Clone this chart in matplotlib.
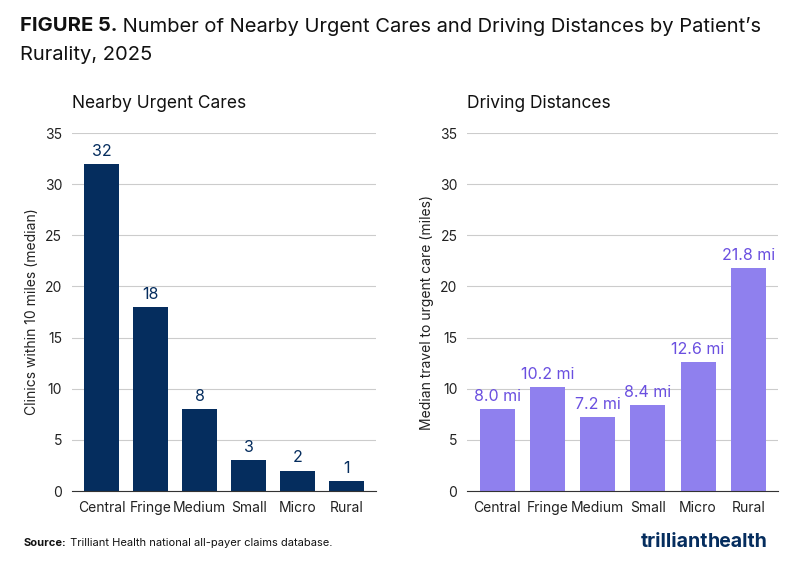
import matplotlib.pyplot as plt

categories = ["Central", "Fringe", "Medium", "Small", "Micro", "Rural"]
clinics = [32, 18, 8, 3, 2, 1]
distances = [8.0, 10.2, 7.2, 8.4, 12.6, 21.8]

navy = "#052d5e"
purple = "#8f80ee"
purple_text = "#6a4fe0"

plt.rcParams['font.family'] = ['Inter', 'DejaVu Sans']

fig = plt.figure(figsize=(8, 5.71), dpi=100)
ax1 = fig.add_axes([0.09, 0.14, 0.38, 0.627])
ax2 = fig.add_axes([0.584, 0.14, 0.389, 0.627])


def style(ax, ylabel):
    ax.set_ylim(0, 35)
    ax.set_yticks(range(0, 36, 5))
    ax.grid(axis='y', color='#cccccc', linewidth=0.8)
    ax.set_axisbelow(True)
    for s in ['top', 'right', 'left']:
        ax.spines[s].set_visible(False)
    ax.spines['bottom'].set_color('#333333')
    ax.tick_params(axis='both', length=0, labelsize=10, colors='#222222', pad=7)
    ax.set_ylabel(ylabel, fontsize=10, color='#222222')
    ax.set_xlim(-0.6, 5.6)


bars = ax1.bar(categories, clinics, width=0.7, color=navy)
style(ax1, "Clinics within 10 miles (median)")
for b, v in zip(bars, clinics):
    ax1.text(b.get_x() + b.get_width() / 2, v + 0.5, str(v), ha='center', va='bottom',
             fontsize=11.5, color=navy)
ax1.text(0.0, 1.06, "Nearby Urgent Cares", transform=ax1.transAxes, fontsize=12.5,
         color='#111111', va='bottom')

bars = ax2.bar(categories, distances, width=0.7, color=purple)
style(ax2, "Median travel to urgent care (miles)")
for b, v in zip(bars, distances):
    ax2.text(b.get_x() + b.get_width() / 2, v + 0.5, f"{v:.1f} mi", ha='center', va='bottom',
             fontsize=11.5, color=purple_text)
ax2.text(0.0, 1.06, "Driving Distances", transform=ax2.transAxes, fontsize=12.5,
         color='#111111', va='bottom')

# title: bold prefix followed by regular text
t = fig.text(0.025, 0.97, "FIGURE 5.", fontsize=14.5, fontweight='bold', va='top', color='#111111')
plt.annotate(" Number of Nearby Urgent Cares and Driving Distances by Patient\u2019s",
             xy=(1, 1), xycoords=t, va='top', ha='left', fontsize=14.5, color='#111111',
             annotation_clip=False)
fig.text(0.025, 0.92, "Rurality, 2025", fontsize=14.5, va='top', color='#111111')

s = fig.text(0.03, 0.04, "Source:", fontsize=8, fontweight='bold', va='bottom', color='#111111')
plt.annotate(" Trilliant Health national all-payer claims database.", xy=(1, 0), xycoords=s,
             va='bottom', ha='left', fontsize=8, color='#111111', annotation_clip=False)
fig.text(0.885, 0.05, "trilliant", fontsize=14, fontweight='bold', ha='right', va='center', color=navy)
fig.text(0.885, 0.05, "health", fontsize=14, fontweight='bold', ha='left', va='center', color=navy)

fig.savefig("out.png", dpi=100)
